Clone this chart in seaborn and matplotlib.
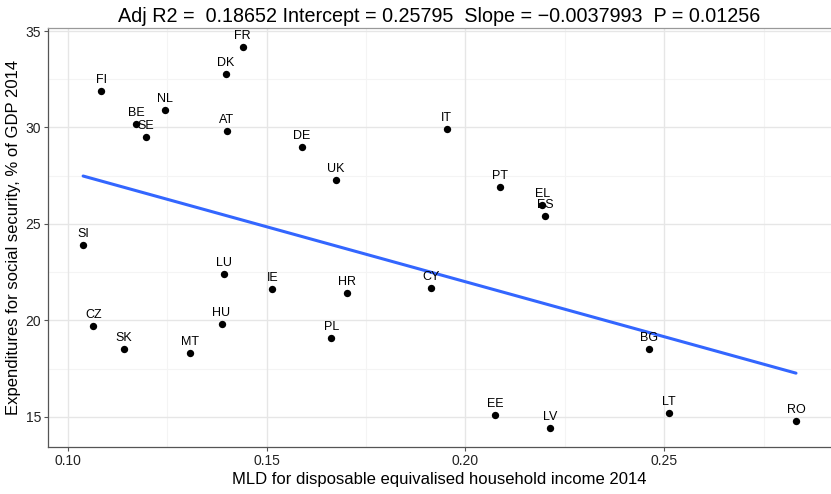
import numpy as np
import pandas as pd
import matplotlib
matplotlib.use("Agg")
import matplotlib.pyplot as plt
import seaborn as sns

countries = ["FR", "DK", "FI", "NL", "BE", "SE", "AT", "DE", "UK", "SI",
             "IT", "PT", "EL", "ES", "LU", "IE", "HR", "CZ", "HU", "SK",
             "MT", "PL", "CY", "BG", "EE", "LV", "LT", "RO"]
mld = [0.1440, 0.1397, 0.1085, 0.1245, 0.1173, 0.1197, 0.1400, 0.1589, 0.1675, 0.1039,
       0.1953, 0.2088, 0.2193, 0.2201, 0.1394, 0.1515, 0.1703, 0.1065, 0.1387, 0.1141,
       0.1307, 0.1663, 0.1913, 0.2462, 0.2075, 0.2212, 0.2512, 0.2831]
expend = [34.2, 32.8, 31.9, 30.9, 30.2, 29.5, 29.8, 29.0, 27.3, 23.9,
          29.9, 26.9, 26.0, 25.4, 22.4, 21.6, 21.4, 19.7, 19.8, 18.5,
          18.3, 19.1, 21.7, 18.5, 15.1, 14.4, 15.2, 14.8]
title = "Adj R2 =  0.18652 Intercept = 0.25795  Slope = \u22120.0037993  P = 0.01256"
x_label = "MLD for disposable equivalised household income 2014"
y_label = "Expenditures for social security, % of GDP 2014"
x_ticks = [0.10, 0.15, 0.20, 0.25]
y_ticks = [15, 20, 25, 30, 35]

df = pd.DataFrame({"country": countries, "mld": mld, "expend": expend})

sns.set_theme(style="white")
plt.rcParams["font.family"] = ["Liberation Sans", "DejaVu Sans"]

fig = plt.figure(figsize=(8.31, 4.94), dpi=100)
ax = fig.add_axes([48 / 831, 1 - 447 / 494, 1 - 48 / 831, (447 - 28) / 494])

ax.set_xlim(0.09507, 0.2919)
ax.set_ylim(13.43, 35.16)

for v in [0.125, 0.175, 0.225, 0.275]:
    ax.axvline(v, color="#f4f4f4", lw=0.8, zorder=0)
for v in [17.5, 22.5, 27.5, 32.5]:
    ax.axhline(v, color="#f4f4f4", lw=0.8, zorder=0)
for v in x_ticks:
    ax.axvline(v, color="#e6e6e6", lw=1.0, zorder=0)
for v in y_ticks:
    ax.axhline(v, color="#e6e6e6", lw=1.0, zorder=0)

sns.regplot(data=df, x="mld", y="expend", ci=None, ax=ax,
            scatter_kws=dict(s=28, color="black", alpha=1, zorder=3, linewidths=0),
            line_kws=dict(color="#3366FF", lw=2.2, zorder=2))

for c, xv, yv in zip(countries, mld, expend):
    ax.annotate(c, (xv, yv), xytext=(0, 3.6), textcoords="offset points",
                ha="center", va="bottom", fontsize=9, color="black", zorder=4)

ax.set_xticks(x_ticks)
ax.set_xticklabels(["0.10", "0.15", "0.20", "0.25"])
ax.set_yticks(y_ticks)
ax.set_yticklabels([str(v) for v in y_ticks])
ax.tick_params(axis="both", which="major", length=3, width=0.8, color="#555555",
               labelsize=10, labelcolor="#222222", pad=2, bottom=True, left=True)
ax.set_xlabel(x_label, fontsize=12, color="black", labelpad=3)
ax.set_ylabel(y_label, fontsize=12, color="black", labelpad=3)
ax.set_title(title, fontsize=14.2, color="black", pad=4)

for s in ["left", "bottom"]:
    ax.spines[s].set_color("#555555")
    ax.spines[s].set_linewidth(0.9)
ax.spines["top"].set_color("#999999")
ax.spines["top"].set_linewidth(0.9)
ax.spines["right"].set_visible(False)
ax.grid(False)

fig.savefig("out.png", dpi=100)
